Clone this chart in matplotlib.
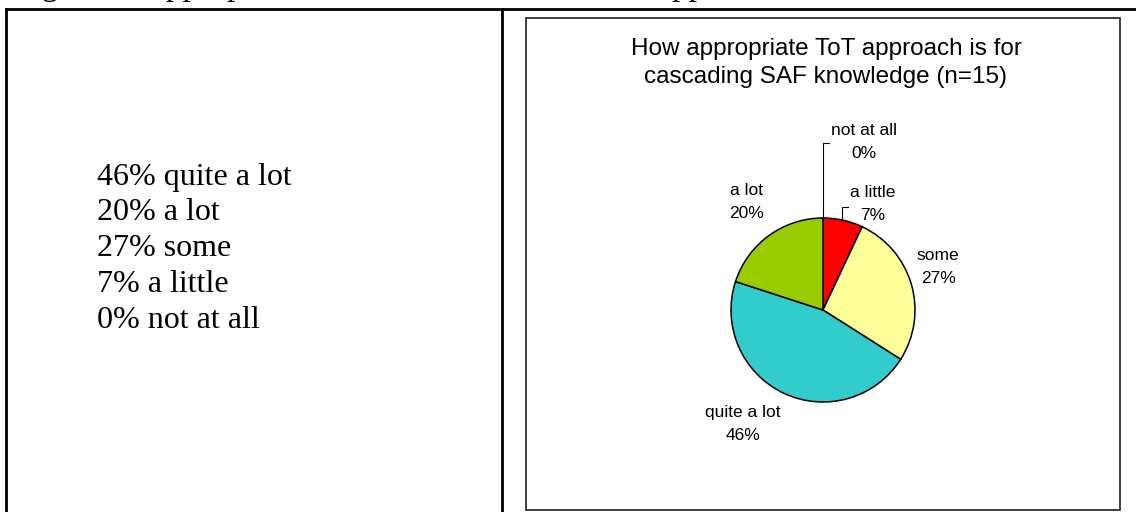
import matplotlib
matplotlib.use('Agg')
import matplotlib.pyplot as plt
from matplotlib.patches import Rectangle

# data
categories = ['not at all', 'a little', 'some', 'quite a lot', 'a lot']
percents = [0, 7, 27, 46, 20]
colors = ['#9999FF', '#FF0000', '#FFFF99', '#33CCCC', '#99CC00']
summary_order = ['quite a lot', 'a lot', 'some', 'a little', 'not at all']
title = 'How appropriate ToT approach is for\ncascading SAF knowledge (n=15)'
caption = 'Figure 4: Appropriateness of ToT as the Trainer approach'

# label placement (pixels, y measured from the top)
label_xy = {'not at all': (864, 142), 'a little': (873, 204), 'some': (938, 267),
            'quite a lot': (743, 424), 'a lot': (747, 202)}

W, H = 1136, 512
fig = plt.figure(figsize=(W / 100, H / 100), dpi=100)
ax = fig.add_axes([0, 0, 1, 1])


def py(y):
    return H - y


# page caption, mostly cut off at the top
ax.text(14, py(-5), caption, family='Liberation Serif', fontsize=24,
        ha='left', va='baseline', clip_on=False)

# table lines
ax.plot([6, W], [py(9), py(9)], color='black', lw=2)
ax.plot([6, 6], [py(9), 0], color='black', lw=2)
ax.plot([502, 502], [py(9), 0], color='black', lw=2)

# left cell text
lookup = dict(zip(categories, percents))
for i, cat in enumerate(summary_order):
    ax.text(97, py(177 + 36 * i), f'{lookup[cat]}% {cat}', family='Liberation Serif',
            fontsize=23, ha='left', va='center')

# chart box
ax.add_patch(Rectangle((526, py(510)), 1120 - 526, 510 - 18, fill=False,
                       edgecolor='#333333', lw=1.3))

ax.text(826, py(63), title, family='Liberation Sans', fontsize=17.5, ha='center',
        va='center', linespacing=1.3)

wedges, _ = ax.pie(percents, colors=colors, startangle=90, counterclock=False,
                   radius=92, center=(823, py(310)), frame=True,
                   wedgeprops=dict(edgecolor='black', linewidth=1.1))
ax.set_xlim(0, W)
ax.set_ylim(0, H)
ax.set_aspect('auto')
ax.axis('off')

for cat, pct in zip(categories, percents):
    x, y = label_xy[cat]
    ax.text(x, py(y), f'{cat}\n{pct}%', family='Liberation Sans', fontsize=12.5,
            ha='center', va='center', linespacing=1.7)

# leader lines
ax.plot([823, 823, 829], [py(218), py(143), py(143)], color='black', lw=0.8)
ax.plot([842, 842, 848], [py(219), py(207), py(207)], color='black', lw=0.8)

fig.savefig('out.png', dpi=100)
